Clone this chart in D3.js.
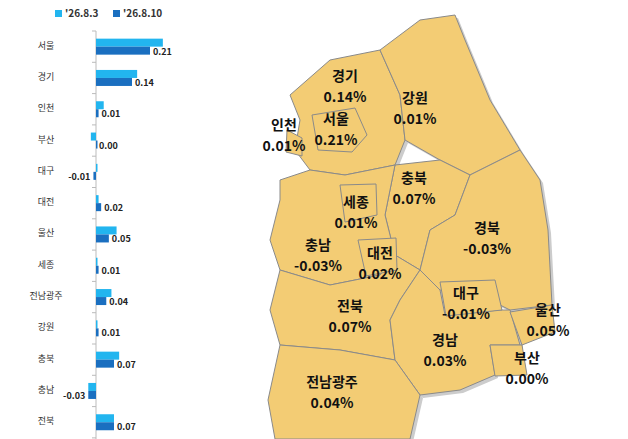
<!DOCTYPE html><html><head><meta charset="utf-8"><script src="https://cdn.jsdelivr.net/npm/d3@7"></script>
<style>body{margin:0;background:#fff}text{font-family:"Noto Sans CJK KR",sans-serif}</style></head><body><svg id="c" width="628" height="439"></svg>
<script>
const categories=["서울","경기","인천","부산","대구","대전","울산","세종","전남광주","강원","충북","충남","전북","전남"];
const week1=[0.26,0.16,0.03,-0.02,0,0.01,0.08,0,0.06,0,0.09,-0.03,0.07,-0.04];
const week2=[0.21,0.14,0.01,0.00,-0.01,0.02,0.05,0.01,0.04,0.01,0.07,-0.03,0.07,-0.03];
const seriesNames=["'26.8.3","'26.8.10"];
const mapLabels=[["경기","0.14%",345,81],["서울","0.21%",336,124],["인천","0.01%",284,130],["강원","0.01%",415,103],["충북","0.07%",414,183],["세종","0.01%",356,207],["충남","-0.03%",318,250],["대전","0.02%",380,258],["경북","-0.03%",487,233],["대구","-0.01%",466,298],["울산","0.05%",548,315],["전북","0.07%",350,311],["경남","0.03%",445,345],["부산","0.00%",527,363],["전남광주","0.04%",332,387]];
const regions=[
[[290,95],[330,60],[380,50],[400,95],[405,140],[395,165],[345,175],[310,170],[295,150],[300,120]],
[[380,50],[420,20],[455,15],[465,40],[490,100],[520,150],[470,175],[440,160],[405,140],[400,95]],
[[395,165],[440,160],[470,175],[455,215],[430,230],[420,270],[395,255],[385,215]],
[[280,180],[310,170],[345,175],[395,165],[385,215],[395,255],[380,275],[330,285],[280,270],[270,240],[280,200]],
[[470,175],[520,150],[540,180],[548,230],[552,305],[510,310],[490,300],[440,290],[420,270],[430,230],[455,215]],
[[280,270],[330,285],[380,275],[395,255],[420,270],[400,300],[390,320],[395,360],[340,350],[280,345],[270,310]],
[[400,300],[420,270],[440,290],[445,315],[500,310],[510,310],[520,345],[490,345],[495,375],[460,390],[420,395],[395,360],[390,320]],
[[280,345],[340,350],[395,360],[420,395],[410,439],[275,439],[268,400]],
[[312,115],[355,108],[367,135],[352,152],[318,150]],
[[287,130],[302,138],[302,156],[286,152]],
[[340,185],[376,184],[377,215],[345,222]],
[[358,240],[396,238],[397,270],[366,276]],
[[440,282],[495,280],[502,310],[446,316]],
[[510,312],[552,305],[555,332],[522,345]],
[[490,345],[522,345],[527,375],[495,376]]];
const svg=d3.select("#c");
seriesNames.forEach((n,i)=>{const g=svg.append("g").attr("transform",`translate(${[55,113][i]},10)`);
g.append("rect").attr("width",7).attr("height",7).attr("fill",i?"#1a6fc0":"#22b5ef");
g.append("text").attr("x",10).attr("y",7).attr("font-size",10).attr("font-weight","bold").attr("fill","#333").attr("font-family","Liberation Sans").text(n);});
const x=d3.scaleLinear().domain([0,0.21]).range([96,150]);
const y=d3.scaleBand().domain(categories).range([31,31+31.3*categories.length]);
svg.append("line").attr("x1",96).attr("x2",96).attr("y1",31).attr("y2",439).attr("stroke","#bbb");
categories.forEach((c,i)=>{svg.append("line").attr("x1",92).attr("x2",96).attr("y1",y(c)).attr("y2",y(c)).attr("stroke","#bbb");
const yc=y(c)+y.bandwidth()/2;
if(i<13)svg.append("text").attr("x",46).attr("y",yc+2).attr("text-anchor","middle").attr("font-size",9).attr("fill","#333").text(c);
[week1,week2].forEach((s,k)=>{const v=s[i];svg.append("rect").attr("x",Math.min(x(v),x(0))).attr("width",Math.max(Math.abs(x(v)-x(0)),1.5)).attr("y",yc-8+k*8).attr("height",8).attr("fill",k?"#1a6fc0":"#22b5ef");});
const v=week2[i];if(i<13)svg.append("text").attr("x",v<0?x(Math.min(v,week1[i]))-3:x(Math.max(v,0))+3).attr("y",yc+8).attr("text-anchor",v<0?"end":"start").attr("font-size",9).attr("font-weight","bold").attr("fill","#222").attr("font-family","Liberation Sans Narrow, Liberation Sans").text(v.toFixed(2));});
const mg=svg.append("g");
mg.selectAll(".sh").data(regions.slice(0,8)).join("polygon").attr("points",d=>d.map(p=>[p[0]+3,p[1]+3].join(",")).join(" ")).attr("fill","#ccc");
mg.selectAll(".r").data(regions).join("polygon").attr("points",d=>d.map(p=>p.join(",")).join(" ")).attr("fill","#f3cc74").attr("stroke","#8a8a8a").attr("stroke-width",1).attr("stroke-linejoin","round");
mapLabels.forEach(([n,v,cx,cy])=>{[n,v].forEach((s,j)=>svg.append("text").attr("x",cx).attr("y",cy+j*21).attr("text-anchor","middle").attr("font-size",14).attr("font-weight","bold").attr("fill","#111").text(s));});
</script></body></html>
